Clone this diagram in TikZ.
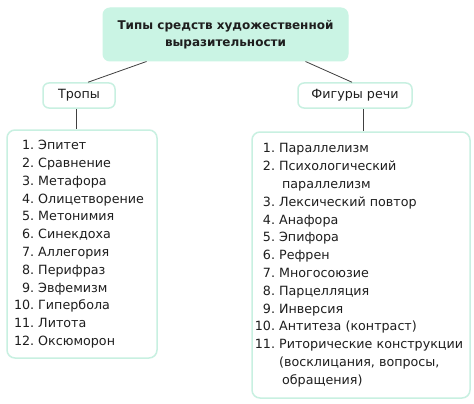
\documentclass[tikz,border=0pt]{standalone}
\usepackage{fontspec}
\setmainfont{DejaVu Sans}
\usetikzlibrary{calc}
\definecolor{mint}{RGB}{202,244,228}
\definecolor{mintline}{RGB}{200,240,225}
\definecolor{ink}{RGB}{30,30,30}
\tikzset{
  titlebox/.style={rectangle, rounded corners=7pt, fill=mint, draw=mint, line width=1pt,
    minimum width=245pt, minimum height=53pt, inner sep=0pt, align=center,
    font=\fontsize{12}{17}\selectfont\bfseries, text=ink},
  catbox/.style={rectangle, rounded corners=6pt, fill=white, draw=mintline, line width=1.5pt,
    minimum height=25pt, inner sep=0pt, font=\fontsize{12.7}{15}\selectfont, text=ink},
  listbox/.style={rectangle, rounded corners=8pt, fill=white, draw=mintline, line width=1.5pt,
    inner sep=0pt, font=\fontsize{12.7}{17.8}\selectfont, text=ink},
  conn/.style={draw=ink!85, line width=0.8pt},
}
\begin{document}
\begin{tikzpicture}[x=1pt,y=-1pt]
\useasboundingbox[fill=white] (0,0) rectangle (474,404);
\node[titlebox] (top) at (225.5,34.5) {Типы средств художественной\\выразительности};
\node[catbox, minimum width=72pt] (tropy) at (79,95.5) {Тропы};
\node[catbox, minimum width=114pt] (fig) at (355,95.5) {Фигуры речи};
\node[listbox, minimum width=150pt, minimum height=228pt] (listL) at (82,244) {%
\begin{tabular}{@{}r@{\ }l@{}}
1. & Эпитет\\
2. & Сравнение\\
3. & Метафора\\
4. & Олицетворение\\
5. & Метонимия\\
6. & Синекдоха\\
7. & Аллегория\\
8. & Перифраз\\
9. & Эвфемизм\\
10. & Гипербола\\
11. & Литота\\
12. & Оксюморон
\end{tabular}\hspace*{6pt}};
\node[listbox, minimum width=218pt, minimum height=266pt] (listR) at (361,265) {%
\begin{tabular}{@{}r@{\ }l@{}}
1. & Параллелизм\\
2. & Психологический\\
 & \hspace{3pt}параллелизм\\
3. & Лексический повтор\\
4. & Анафора\\
5. & Эпифора\\
6. & Рефрен\\
7. & Многосоюзие\\
8. & Парцелляция\\
9. & Инверсия\\
10. & Антитеза (контраст)\\
11. & Риторические конструкции\\
 & (восклицания, вопросы,\\
 & \hspace{3pt}обращения)
\end{tabular}\hspace*{4pt}};
\draw[conn] ([xshift=44pt]top.south west) -- ([xshift=9pt]tropy.north);
\draw[conn] ([xshift=-43pt]top.south east) -- ([xshift=-3pt]fig.north);
\draw[conn] ([xshift=-3pt]tropy.south) -- ([xshift=-3pt]tropy.south |- listL.north);
\draw[conn] ([xshift=8pt]fig.south) -- ([xshift=8pt]fig.south |- listR.north);
\end{tikzpicture}
\end{document}
